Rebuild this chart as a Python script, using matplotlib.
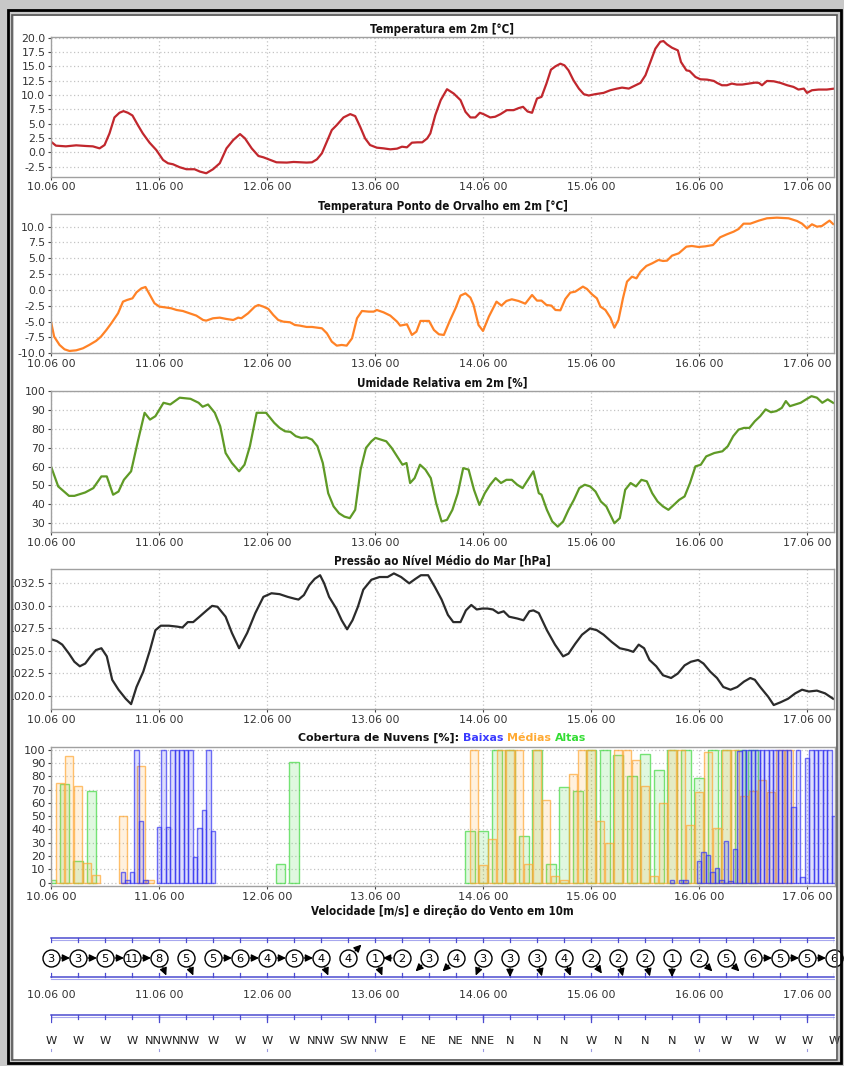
import matplotlib
matplotlib.use("Agg")
import matplotlib.pyplot as plt
import numpy as np
from matplotlib.patches import Rectangle

# ---------------- data (hours since 10.06 00) ----------------
day_labels = ["10.06 00", "11.06 00", "12.06 00", "13.06 00",
              "14.06 00", "15.06 00", "16.06 00", "17.06 00"]

temperature = [(0,1.85),(1.1,1.16),(3.3,1.04),(5.6,1.22),(7.8,1.1),(9.3,1.04),(10.8,0.69),(11.9,1.27),
    (13,3.3),(14.1,6.08),(15.2,6.89),(16.1,7.18),(17.1,6.89),(18.1,6.42),(19.3,4.75),(20.4,3.3),
    (21.9,1.68),(23.4,0.4),(24.9,-1.33),(26,-1.91),(27.1,-2.08),(28.6,-2.6),(30.1,-2.95),(31.9,-2.95),
    (33.1,-3.36),(34.5,-3.65),(36,-2.95),(37.5,-1.91),(39,0.69),(40.5,2.14),(42,3.18),(43.1,2.43),
    (44.6,0.69),(46.1,-0.64),(47.2,-0.87),(48.7,-1.33),(50.1,-1.74),(52.4,-1.79),(53.9,-1.68),
    (55.3,-1.74),(56.8,-1.79),(58,-1.74),(59.1,-1.22),(60.2,-0.17),(61.3,1.85),(62.4,3.88),
    (63.5,4.75),(65,6.08),(66.5,6.66),(67.6,6.31),(68.7,4.46),(69.8,2.43),(70.9,1.27),(72.4,0.81),
    (73.9,0.69),(75.4,0.52),(76.9,0.64),(78,0.98),(79.1,0.87),(80.2,1.68),(81.4,1.74),(82.5,1.74),
    (83.6,2.43),(84.3,3.3),(85.4,6.48),(86.6,9.09),(88,11.0),(89.5,10.24),(91,9.1),(92.1,7.06),
    (93.2,6.08),(94.3,6.08),(95.3,6.89),(96.1,6.66),(97.6,6.08),(98.7,6.2),(99.9,6.66),(101.3,7.35),
    (102.8,7.35),(103.9,7.7),(104.9,7.93),(105.9,7.12),(106.9,6.89),(108,9.38),(109,9.66),
    (110.1,11.98),(111.1,14.4),(112.1,14.99),(113.2,15.45),(114.1,15.16),(115,14.29),(116.1,12.56),
    (117.3,11.11),(118.4,10.13),(119.5,9.9),(120.9,10.13),(122.8,10.36),(124.3,10.82),(125.8,11.11),
    (126.9,11.28),(128.4,11.11),(129.5,11.52),(131,12.1),(132.1,13.43),(133.2,15.74),(134.3,18.06),
    (135.4,19.27),(136.1,19.39),(136.9,18.81),(138,18.23),(139.3,17.77),(140,15.74),(141.2,14.29),
    (141.9,14.18),(143.2,13.14),(144.3,12.73),(145.8,12.67),(147.3,12.44),(148,12.1),(149.1,11.69),
    (150.2,11.69),(151.3,11.98),(152.4,11.81),(153.6,11.81),(155,11.98),(156.5,12.15),(157.3,12.1),
    (158,11.69),(159.1,12.44),(160.6,12.38),(162.1,12.1),(163.6,11.69),(165,11.4),(166.1,10.94),
    (167.3,11.11),(168,10.36),(169.1,10.82),(170.6,10.94),(172.4,10.94),(174.1,11.11)]

dewpoint = [(0,-5.0),(0.7,-7.37),(1.9,-8.68),(3,-9.37),(4.1,-9.63),(5.6,-9.53),(7.1,-9.21),(8.5,-8.68),
    (10,-8.05),(11.1,-7.37),(12.3,-6.32),(13.4,-5.26),(14.9,-3.68),(16,-1.84),(16.9,-1.58),(18.1,-1.32),
    (19,-0.37),(20.1,0.26),(21,0.47),(21.9,-0.68),(23,-2.1),(24.1,-2.63),(25.3,-2.74),(26.7,-2.89),
    (27.9,-3.16),(29.3,-3.32),(30.8,-3.68),(32.3,-4.05),(33.8,-4.74),(34.5,-4.84),(36,-4.47),
    (37.5,-4.37),(39,-4.58),(40.5,-4.74),(41.6,-4.37),(42.3,-4.47),(43.8,-3.68),(45.3,-2.63),
    (46.1,-2.37),(47.2,-2.63),(48.3,-3.0),(49.4,-3.95),(50.5,-4.74),(51.6,-5.0),(53.1,-5.1),
    (54.2,-5.53),(55.3,-5.63),(56.8,-5.84),(58,-5.84),(59.1,-5.95),(60.2,-6.05),(61.3,-6.84),
    (62.4,-8.16),(63.5,-8.79),(64.6,-8.68),(65.7,-8.79),(66.9,-7.63),(68,-4.47),(69.1,-3.32),
    (70.6,-3.42),(71.7,-3.42),(72.4,-3.16),(73.9,-3.53),(75.4,-4.05),(76.9,-5.0),(77.6,-5.63),
    (79.1,-5.42),(80.2,-7.1),(81.2,-6.58),(82.1,-4.89),(84,-4.89),(85.1,-6.32),(86.2,-7.0),
    (87.3,-7.1),(88.7,-4.74),(89.9,-2.89),(91,-0.89),(92.1,-0.53),(93.2,-1.21),(93.9,-2.37),
    (95,-5.53),(96,-6.47),(97.3,-4.21),(99,-1.84),(100.1,-2.47),(101.2,-1.74),(102.4,-1.47),
    (103.9,-1.74),(105.4,-2.16),(106.9,-0.79),(108,-1.68),(109,-1.68),(110.1,-2.37),(111.2,-2.47),
    (112.1,-3.16),(113.2,-3.21),(114.3,-1.42),(115.4,-0.42),(116.5,-0.26),(117.6,0.26),(118.2,0.53),
    (119.1,0.16),(120.2,-0.68),(121.3,-1.32),(122.1,-2.63),(123.2,-3.16),(124.3,-4.37),(125.2,-5.95),
    (126.1,-4.74),(127.1,-1.32),(128,1.32),(129.1,2.1),(130.1,1.84),(131,2.89),(132.3,3.79),
    (133.6,4.21),(135,4.74),(136,4.58),(136.9,4.63),(138,5.42),(139.5,5.79),(141.2,6.84),(142.4,6.95),
    (143.9,6.79),(145.4,6.89),(147.1,7.1),(148.7,8.32),(150.2,8.79),(151.7,9.21),(152.8,9.63),
    (153.9,10.47),(155.4,10.47),(157.3,10.95),(159.1,11.32),(161.3,11.42),(163.9,11.32),(165.8,10.89),
    (166.9,10.47),(168,9.74),(169.1,10.37),(170.2,10.0),(171.3,10.1),(173,10.95),(173.8,10.42)]

humidity = [(0,60.1),(1.6,49.5),(4.0,44.5),(5.2,44.5),(7.6,46.3),(9.4,48.6),(11.2,54.8),(12.4,54.8),
    (13.8,45.1),(15,46.8),(16.2,53),(17.8,57.5),(19.3,73.4),(20.8,88.5),(22,84.9),(23.2,86.7),
    (25,93.8),(26.5,92.9),(28.6,96.5),(31,95.9),(32.8,93.8),(33.7,91.7),(34.9,92.9),(36.4,88.5),
    (37.6,81.4),(38.8,67.2),(40.2,61.9),(41.8,57.5),(43,61),(44.2,70.8),(45.7,88.5),(47.8,88.5),
    (49.6,83.2),(50.8,80.5),(52,78.7),(53.2,78.4),(54.4,76.1),(55.6,75.2),(56.8,75.5),(58,74.3),
    (59.2,70.8),(60.4,61.9),(61.6,45.9),(62.8,38.9),(64,35.3),(65.2,33.5),(66.4,32.7),(67.6,37.1),
    (68.8,58.4),(70,69.9),(71.2,73.4),(72.1,75.2),(73.3,74.3),(74.5,73.4),(75.7,69.9),(76.9,65.4),
    (78.1,61),(79,61.9),(79.8,51.3),(80.8,53.9),(82,61),(83.2,58.4),(84.4,53.9),(85.6,40.6),
    (86.8,30.9),(88,31.8),(89.2,37.1),(90.4,45.9),(91.6,59.2),(92.8,58.4),(94,47.7),(95.2,39.7),
    (96.4,45.9),(97.6,50.4),(98.8,53.9),(100,51.3),(101.2,53),(102.4,53),(103.6,50.4),(104.8,48.6),
    (106,53),(107.2,57.5),(108.4,45.9),(109,45.1),(110.2,37.1),(111.4,30.9),(112.6,28.2),
    (113.8,30.9),(115,37.1),(116.2,42.4),(117.4,48.6),(118.6,50.4),(119.8,49.5),(121,46.8),
    (122.2,41.5),(123.4,38.9),(125.2,30),(126.4,32.7),(127.6,47.7),(128.8,51.3),(130,49.5),
    (131.2,53),(132.4,52.2),(133.6,45.9),(134.8,41.5),(136,38.9),(137.2,37.1),(138.4,39.7),
    (139.6,42.4),(140.8,44.2),(142,51.3),(143.2,60.1),(144.4,61),(145.6,65.4),(147.4,67.2),
    (149.2,68.1),(150.4,70.8),(151.6,76.1),(152.8,79.6),(154,80.5),(155.2,80.5),(156.4,84),
    (157.6,86.7),(158.8,90.3),(160,88.8),(161.2,89.4),(162.4,91.1),(163.3,94.7),(164.2,92),
    (165.4,92.9),(166.6,93.8),(167.8,95.6),(169,97.3),(170.2,96.5),(171.4,93.8),(172.6,95.6),
    (173.8,93.8)]

pressure = [(0,1026.3),(1.3,1026.1),(2.5,1025.7),(4.0,1024.7),(5.2,1023.8),(6.4,1023.3),(7.6,1023.6),
    (8.8,1024.4),(10.0,1025.1),(11.2,1025.3),(12.4,1024.4),(13.6,1021.8),(15.0,1020.7),(16.6,1019.7),
    (17.8,1019.1),(19.0,1021.0),(20.5,1022.7),(22.0,1025.1),(23.2,1027.3),(24.4,1027.8),(26.2,1027.8),
    (28.0,1027.7),(29.2,1027.6),(30.4,1028.2),(31.6,1028.2),(33.0,1028.8),(34.6,1029.5),(35.8,1030.0),
    (37.0,1029.9),(38.8,1028.8),(40.2,1027.0),(41.8,1025.3),(43.6,1027.0),(45.4,1029.2),(47.2,1031.0),
    (49.0,1031.4),(50.8,1031.3),(52.6,1031.0),(54.1,1030.8),(55.0,1030.7),(56.2,1031.2),(57.4,1032.3),
    (58.6,1033.0),(59.8,1033.4),(60.7,1032.5),(61.8,1031.0),(63.4,1029.7),(64.6,1028.4),(65.8,1027.4),
    (67.0,1028.4),(68.2,1029.9),(69.4,1031.8),(71.2,1032.9),(73.0,1033.2),(74.8,1033.2),(76.2,1033.6),
    (77.8,1033.2),(79.6,1032.5),(81.0,1033.0),(82.2,1033.4),(83.8,1033.4),(85.3,1032.1),(86.8,1030.7),
    (88.2,1029.0),(89.4,1028.2),(91.0,1028.2),(92.2,1029.5),(93.4,1030.1),(94.6,1029.6),(95.8,1029.7),
    (97.0,1029.7),(98.2,1029.6),(99.4,1029.2),(100.6,1029.4),(101.8,1028.8),(103.6,1028.6),
    (105.0,1028.4),(106.3,1029.4),(107.2,1029.5),(108.4,1029.2),(110.2,1027.3),(112.0,1025.7),
    (113.8,1024.4),(115.0,1024.7),(116.5,1025.8),(118.0,1026.8),(119.8,1027.5),(121.3,1027.3),
    (122.8,1026.8),(124.6,1026.0),(126.4,1025.3),(128.2,1025.1),(129.4,1024.9),(130.6,1025.7),
    (131.8,1025.3),(133.0,1024.0),(134.5,1023.3),(136.0,1022.3),(137.8,1022.0),(139.3,1022.5),
    (140.8,1023.4),(142.2,1023.8),(143.8,1024.0),(145.0,1023.6),(146.5,1022.7),(148.0,1022.0),
    (149.4,1021.0),(151.0,1020.7),(152.5,1021.0),(154.0,1021.6),(155.4,1022.0),(156.4,1021.8),
    (157.6,1021.0),(159.4,1019.9),(160.6,1019.0),(162.1,1019.3),(163.8,1019.7),(165.4,1020.3),
    (166.9,1020.7),(168.4,1020.5),(170.2,1020.6),(172.0,1020.3),(173.8,1019.7)]

# cloud cover [%] (hour, value)
clouds_low = [(16,8),(17,2),(18,8),(19,100),(20,46),(21,2),
    (24,42),(25,100),(26,42),(27,100),(28,100),(29,100),(30,100),(31,100),(32,19),(33,41),(34,55),
    (35,100),(36,39),
    (138,2),(140,2),(141,2),(144,16),(145,23),(146,21),(147,8),(148,11),(149,2),(150,31),(151,1),
    (152,25),(153,99),(154,100),(155,100),(156,100),(157,100),(158,100),(159,100),(160,100),(161,100),
    (162,100),(163,100),(164,100),(165,57),(166,100),(167,4),(168,94),(169,100),(170,100),(171,100),
    (172,100),(173,100),(174,50)]
clouds_mid = [(2,75),(4,95),(6,73),(8,15),(10,6),(16,50),(20,88),(22,2),
    (94,100),(96,13),(98,33),(100,100),(102,100),(104,100),(106,14),(108,100),(110,62),(112,5),
    (114,2),(116,82),(118,100),(120,100),(122,46),(124,30),(126,100),(128,100),(130,92),(132,73),
    (134,5),(136,60),(138,100),(140,100),(142,43),(144,68),(146,98),(148,41),(150,100),(152,100),
    (154,65),(156,69),(158,77),(160,68),(162,100),(164,100)]
clouds_high = [(0,2),(3,74),(6,16),(9,69),(51,14),(54,91),
    (93,39),(96,39),(99,100),(102,100),(105,35),(108,100),(111,14),(114,72),(117,69),(120,100),
    (123,100),(126,96),(129,80),(132,97),(135,85),(138,100),(141,100),(144,79),(147,100),(150,100),
    (153,100),(156,100)]

# wind every 6 h: speed [m/s], labelled direction, and bearing the drawn arrow points to [deg]
wind_speed = [3,3,5,11,8,5,5,6,4,5,4,4,1,2,3,4,3,3,3,4,2,2,2,1,2,5,6,5,5,6]
wind_dir = ["W","W","W","W","NNW","NNW","W","W","W","W","NNW","SW","NNW","E","NE","NE","NNE",
            "N","N","N","W","N","N","N","W","W","W","W","W","W"]
wind_arrow_to = [90,90,90,90,157.5,157.5,90,90,90,90,157.5,45,157.5,270,225,225,202.5,
                 180,165,160,145,165,165,180,135,135,90,90,90,90]

# ---------------- layout helpers ----------------
W, H = 845, 1066
fig = plt.figure(figsize=(W / 100, H / 100), dpi=100)
fig.patch.set_facecolor("#c8c8c8")
plt.rcParams["font.family"] = ["DejaVu Sans"]

def frac(l, t, r, b):
    return [l / W, 1 - b / H, (r - l) / W, (b - t) / H]

PX_PER_H = 4.5
X0, X1 = 51, 834
XMAX = (X1 - X0) / PX_PER_H

# frame
fig.add_artist(Rectangle((14 / W, 1 - 1061 / H), (838 - 14) / W, (1061 - 16) / H,
                         transform=fig.transFigure, facecolor="white", edgecolor="none", zorder=-5))
frame_patches = [
    Rectangle((0, 0), 12.5 / W, 1, transform=fig.transFigure, facecolor="#c8c8c8", edgecolor="none", zorder=20),
    Rectangle((8 / W, 1 - 1063 / H), (841 - 8) / W, (1063 - 10) / H, transform=fig.transFigure,
              facecolor="none", edgecolor="black", lw=2.0, zorder=21),
    Rectangle((12.5 / W, 1 - 1060 / H), (837 - 12.5) / W, (1060 - 14.5) / H, transform=fig.transFigure,
              facecolor="none", edgecolor="#555555", lw=1.2, zorder=21),
]
for p in frame_patches:
    fig.add_artist(p)

TICK_C = "#444444"
GRID_C = "#c4c4c4"
SPINE_C = "#a0a0a0"
day_ticks = [24 * i for i in range(8)]
TITLE_KW = dict(fontsize=8.3, fontweight="bold", fontstretch="condensed", color="#111111")

def style_axes(ax, title, ylim, yticks, yfmt):
    ax.set_xlim(0, XMAX)
    ax.set_ylim(*ylim)
    ax.set_xticks(day_ticks)
    ax.set_xticklabels(day_labels)
    ax.set_yticks(yticks)
    ax.set_yticklabels([yfmt(v) for v in yticks])
    ax.tick_params(axis="both", labelsize=7.8, colors=TICK_C, length=2, width=0.8, pad=2)
    for lab in ax.get_xticklabels() + ax.get_yticklabels():
        lab.set_color("#333333")
    ax.grid(True, color=GRID_C, linestyle=(0, (1, 2)), linewidth=0.9)
    ax.set_axisbelow(True)
    for s in ax.spines.values():
        s.set_color(SPINE_C)
        s.set_linewidth(1.0)
    if title is not None:
        ax.set_title(title, pad=3, **TITLE_KW)

def line_panel(top, bottom, data, color, title, ylim, yticks, yfmt):
    ax = fig.add_axes(frac(X0, top, X1, bottom))
    hrs = [p[0] for p in data]
    vals = [p[1] for p in data]
    ax.plot(hrs, vals, color=color, lw=1.6, solid_joinstyle="round")
    style_axes(ax, title, ylim, yticks, yfmt)
    return ax

f1 = lambda v: f"{v:.1f}"
line_panel(37, 176.7, temperature, "#c1272d", "Temperatura em 2m [°C]",
           (-4.25, 20.1), np.arange(-2.5, 20.01, 2.5), f1)
line_panel(214.3, 353.3, dewpoint, "#ff8226", "Temperatura Ponto de Orvalho em 2m [°C]",
           (-10.0, 11.95), np.arange(-10, 10.01, 2.5), f1)
line_panel(390.7, 532.3, humidity, "#5f9a26", "Umidade Relativa em 2m [%]",
           (25.2, 100.2), np.arange(30, 100.01, 10), lambda v: f"{v:.0f}")
line_panel(569, 709, pressure, "#2b2b2b", "Pressão ao Nível Médio do Mar [hPa]",
           (1018.56, 1034.09), np.arange(1020, 1032.51, 2.5), f1)

# ---------------- clouds ----------------
axc = fig.add_axes(frac(X0, 747, X1 + 1, 886))
series = [(clouds_high, (0.25, 0.85, 0.25), 2.2),
          (clouds_mid, (1.0, 0.66, 0.2), 1.6),
          (clouds_low, (0.2, 0.2, 0.95), 1.0)]
for data, col, wdt in series:
    hrs = [p[0] for p in data]
    vals = [p[1] for p in data]
    axc.bar(hrs, vals, width=wdt, align="center", facecolor=col + (0.16,),
            edgecolor=col + (0.7,), linewidth=1.0)
style_axes(axc, None, (-2.5, 102), np.arange(0, 101, 10), lambda v: f"{v:.0f}")
axc.set_xlim(0, XMAX + 0.2)
axc.tick_params(axis="both", labelsize=8.2)
tx, ty = 442, 738
parts = [("Cobertura de Nuvens [%]: ", "#111111"), ("Baixas ", "#3a3aff"),
         ("Médias ", "#ffaa33"), ("Altas", "#33dd33")]
renderer = fig.canvas.get_renderer()
texts = []
for s, c in parts:
    t = fig.text(0, 1 - ty / H, s, fontsize=7.9, fontweight="bold", color=c, va="center", ha="left")
    texts.append(t)
widths = [t.get_window_extent(renderer).width for t in texts]
x = tx - sum(widths) / 2
for t, w_ in zip(texts, widths):
    t.set_x(x / W)
    x += w_

# ---------------- wind ----------------
axw = fig.add_axes(frac(X0, 900, X1, 1060))
axw.set_xlim(0, XMAX)
axw.set_ylim(1060, 900)
axw.axis("off")
axw.set_zorder(2)
def hx(px):
    return px / PX_PER_H

fig.text(442 / W, 1 - 912 / H, "Velocidade [m/s] e direção do Vento em 10m",
         ha="center", va="center", **TITLE_KW)
BAND = "#4b4bd0"
for yy in (938, 977):
    axw.plot([0, XMAX], [yy, yy], color=BAND, lw=1.1, clip_on=False)
    axw.plot([0, XMAX], [yy + 1.5, yy + 1.5], color="#a8a8ee", lw=0.8, clip_on=False)
wind_hours = [6 * i for i in range(len(wind_speed))]
for h in wind_hours:
    axw.plot([h, h], [938, 942], color=BAND, lw=0.9)
    axw.plot([h, h], [973, 977], color=BAND, lw=0.9)

CY = 958
R = 8.5
axw.scatter(wind_hours, [CY] * len(wind_hours), s=(2 * R * 0.72) ** 2, facecolor="white",
            edgecolor="black", linewidths=1.0, zorder=3, clip_on=False)
for h, spd, b in zip(wind_hours, wind_speed, wind_arrow_to):
    axw.text(h, CY + 0.5, str(spd), ha="center", va="center", fontsize=8.2, color="black", zorder=4)
    ang = np.deg2rad(b)
    ux, uy = np.sin(ang), -np.cos(ang)   # screen coords (y down)
    r0, r1 = R + 1.5, R + 10.5
    axw.annotate("", xy=(h + hx(r1 * ux), CY + r1 * uy), xytext=(h + hx(r0 * ux), CY + r0 * uy),
                 arrowprops=dict(arrowstyle="-|>,head_length=0.45,head_width=0.22",
                                 color="black", lw=0.9, shrinkA=0, shrinkB=0),
                 zorder=5, annotation_clip=False)

for h, lab in zip(day_ticks, day_labels):
    axw.text(h, 995, lab, ha="center", va="center", fontsize=7.8, color="#333333")
axw.plot([0, XMAX], [1015, 1015], color=BAND, lw=1.1, clip_on=False)
axw.plot([0, XMAX], [1016.5, 1016.5], color="#a8a8ee", lw=0.8, clip_on=False)
for h in wind_hours:
    axw.plot([h, h], [1015, 1019], color=BAND, lw=0.9)
for h in day_ticks:
    axw.plot([h, h], [1015, 1022], color=BAND, lw=0.9)
    axw.plot([h, h], [1049, 1051], color="#9a9ae0", lw=0.8)
for h, d in zip(wind_hours, wind_dir):
    axw.text(h, 1041, d, ha="center", va="center", fontsize=8.2, color="#222222")

fig.savefig("out.png", dpi=100, facecolor=fig.get_facecolor())
